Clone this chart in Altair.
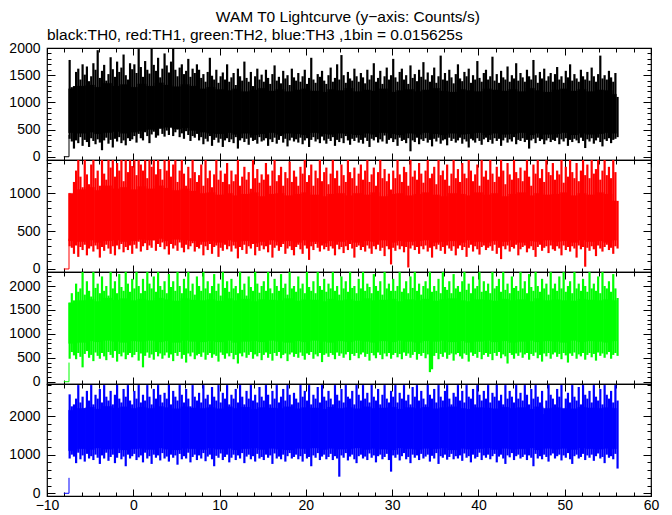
import altair as alt
import pandas as pd

FONT = "Liberation Sans"
TITLE = "WAM T0 Lightcurve (y\u2212axis: Counts/s)"
SUBTITLE = "black:TH0, red:TH1, green:TH2, blue:TH3 ,1bin = 0.015625s"

# time grids (seconds)
T_START = -7.5
T_END = 56.0
T_BIN = 0.25      # spike envelope bins
T_CORE = 1.0      # dense-core envelope bins
# flat pre-trigger segment (x, y)
PRE_X = [-8.05, -7.45, -7.45]
PRE_Y = [0, 0, 400]

X_DOMAIN = [-10, 60]
X_MAJOR = [-10, 0, 10, 20, 30, 40, 50, 60]
X_MINOR = list(range(-10, 61, 2))

# ---- TH0 (black) ----
TH0_CORE_HI = [1250, 1300, 1320, 1280, 1350, 1300, 1330, 1280,
               1340, 1300, 1360, 1320, 1290, 1330, 1300, 1250,
               1280, 1240, 1220, 1250, 1200, 1230, 1260, 1210,
               1240, 1200, 1230, 1250, 1210, 1190, 1240, 1220,
               1260, 1200, 1230, 1210, 1250, 1190, 1220, 1240,
               1200, 1230, 1260, 1210, 1190, 1240, 1220, 1200,
               1250, 1230, 1210, 1240, 1200, 1260, 1220, 1190,
               1230, 1250, 1210, 1240, 1200, 1230, 1220, 1150]
TH0_CORE_LO = [440, 430, 450, 420, 440, 460, 430, 450,
               470, 500, 520, 540, 510, 530, 480, 450,
               430, 420, 440, 410, 430, 400, 420, 440,
               410, 430, 420, 400, 440, 420, 410, 430,
               420, 400, 430, 410, 440, 420, 400, 430,
               410, 440, 420, 400, 430, 410, 420, 440,
               400, 430, 410, 420, 440, 400, 430, 410,
               420, 440, 400, 430, 410, 420, 440, 430]
TH0_HI = [1780, 1280, 1300, 1560, 1620, 1420, 1700, 1510, 1660, 1390, 1480, 1720, 1600, 1960, 1450,
          1580, 1690, 1400, 1520, 1830, 1610, 1470, 1750, 1560, 1640, 1880, 1500, 1420, 1720, 1610,
          1700, 1540, 1980, 1650, 1470, 1760, 1600, 1530, 2000, 1690, 1580, 1820, 1460, 1620, 1900,
          1680, 1550, 1750, 1990, 1600, 1480, 1640, 1700, 1520, 1580, 1800, 1470, 1620, 1540, 1700,
          1600, 1450, 1520, 1380, 1560, 1820, 1490, 1420, 1600, 1360, 1480, 1550, 1420, 1700, 1380,
          1460, 1540, 1320, 1620, 1480, 1400, 1750, 1450, 1380, 1560, 1300, 1480, 1620, 1420, 1510,
          1380, 1600, 1450, 1340, 1520, 1680, 1400, 1470, 1350, 1580, 1440, 1500, 1320, 1620, 1460,
          1400, 1540, 1380, 1480, 1600, 1340, 1450, 1820, 1420, 1360, 1520, 1470, 1580, 1400, 1340,
          1500, 1640, 1380, 1450, 1700, 1420, 1870, 1500, 1360, 1560, 1440, 1400, 1620, 1480, 1380,
          1540, 1460, 1350, 1600, 1420, 1500, 1720, 1380, 1450, 1580, 1340, 1480, 1640, 1420, 1500,
          1800, 1460, 1380, 1560, 1620, 1420, 1500, 1340, 1680, 1450, 1520, 1390, 1600, 1470, 1740,
          1420, 1550, 1380, 1500, 1640, 1360, 1480, 1860, 1420, 1540, 1400, 1600, 1460, 1350, 1520,
          1700, 1440, 1390, 1560, 1480, 1620, 1360, 1500, 1420, 1760, 1450, 1380, 1540, 1600, 1420,
          1480, 1840, 1400, 1520, 1360, 1580, 1460, 1420, 1660, 1380, 1500, 1440, 1720, 1400, 1540,
          1460, 1380, 1600, 1480, 1420, 1780, 1500, 1360, 1560, 1440, 1620, 1400, 1480, 1540, 1380,
          1520, 1650, 1420, 1480, 1360, 1580, 1460, 1700, 1400, 1520, 1440, 1380, 1600, 1480, 1420,
          1560, 1400, 1640, 1480, 1380, 1520, 1860, 1440, 1500, 1420, 1580, 1460, 1380, 1540, 1100]
TH0_LO = [330, 280, 150, 300, 250, 360, 200, 310, 270, 180, 340, 290, 230, 320, 260,
          120, 300, 350, 240, 310, 170, 330, 280, 360, 250, 300, 210, 340, 290, 320,
          380, 260, 420, 340, 300, 450, 380, 250, 410, 460, 350, 390, 520, 420, 370,
          480, 400, 540, 380, 450, 500, 360, 430, 330, 470, 400, 290, 380, 350, 420,
          300, 360, 230, 330, 280, 380, 200, 310, 350, 260, 330, 180, 300, 340, 270,
          320, 250, 360, 150, 300, 340, 270, 330, 220, 350, 290, 310, 240, 360, 280,
          300, 340, 200, 320, 270, 350, 240, 310, 380, 260, 330, 190, 300, 350, 280,
          320, 260, 350, 230, 300, 340, 180, 310, 360, 280, 320, 250, 370, 300, 240,
          330, 290, 360, 200, 310, 270, 340, 250, 380, 300, 220, 330, 290, 350, 260,
          310, 240, 350, 290, 180, 330, 300, 360, 260, 320, 280, 390, 240, 310, 340,
          270, 320, 200, 350, 290, 310, 250, 340, 100, 300, 270, 350, 230, 320, 290,
          340, 260, 310, 190, 330, 280, 350, 240, 300, 320, 210, 350, 290, 330, 260,
          300, 350, 240, 320, 280, 170, 330, 300, 260, 340, 290, 220, 320, 350, 270,
          310, 240, 340, 290, 330, 200, 300, 350, 260, 320, 280, 360, 230, 310, 290,
          340, 270, 310, 150, 300, 330, 250, 350, 290, 320, 230, 300, 340, 270, 310,
          290, 350, 230, 320, 280, 340, 200, 310, 270, 330, 300, 250, 350, 290, 160,
          320, 280, 340, 240, 300, 350, 270, 190, 320, 290, 340, 250, 310, 330, 360]

# ---- TH1 (red) ----
TH1_CORE_HI = [1000, 1050, 1080, 1040, 1100, 1060, 1080, 1050,
               1090, 1060, 1100, 1070, 1040, 1060, 1030, 1000,
               1010, 980, 1000, 970, 990, 1010, 960, 990,
               1000, 970, 990, 1010, 980, 960, 990, 1000,
               970, 1000, 980, 1010, 960, 990, 1000, 970,
               990, 1010, 980, 960, 1000, 990, 970, 1010,
               980, 1000, 960, 990, 1010, 970, 1000, 980,
               990, 1010, 970, 1000, 980, 1010, 990, 900]
TH1_CORE_LO = [370, 360, 380, 350, 370, 380, 360, 370,
               390, 380, 400, 370, 390, 380, 370, 360,
               370, 350, 380, 360, 370, 340, 360, 380,
               360, 370, 350, 380, 360, 340, 370, 360,
               380, 350, 370, 360, 380, 350, 370, 360,
               370, 380, 350, 360, 370, 350, 380, 360,
               350, 370, 360, 380, 350, 370, 360, 380,
               360, 370, 350, 380, 360, 370, 350, 380]
TH1_HI = [1000, 990, 1150, 1300, 1450, 1220, 1080, 1450, 1250, 1120, 1380, 1450, 1200, 1300, 1100,
          1450, 1260, 1180, 1450, 1340, 1450, 1220, 1400, 1300, 1450, 1160, 1450, 1280, 1450, 1360,
          1450, 1240, 1450, 1380, 1300, 1450, 1200, 1450, 1350, 1450, 1250, 1450, 1320, 1180, 1450,
          1300, 1450, 1220, 1380, 1450, 1150, 1300, 1450, 1260, 1100, 1350, 1200, 1450, 1280, 1150,
          1240, 1380, 1100, 1450, 1200, 1300, 1080, 1250, 1450, 1180, 1300, 1150, 1260, 1400, 1120,
          1300, 1160, 1250, 1450, 1100, 1220, 1350, 1180, 1280, 1060, 1450, 1200, 1320, 1140, 1250,
          1180, 1400, 1250, 1100, 1300, 1450, 1160, 1240, 1350, 1100, 1280, 1200, 1420, 1150, 1300,
          1220, 1100, 1350, 1260, 1450, 1150, 1240, 1380, 1100, 1300, 1200, 1450, 1160, 1280, 1340,
          1120, 1260, 1450, 1200, 1300, 1100, 1380, 1240, 1150, 1450, 1280, 1200, 1340, 1100, 1260,
          1380, 1180, 1300, 1450, 1150, 1250, 1340, 1100, 1280, 1450, 1200, 1320, 1160, 1260, 1050,
          1300, 1200, 1450, 1250, 1150, 1350, 1280, 1100, 1450, 1220, 1300, 1180, 1400, 1260, 1140,
          1300, 1450, 1200, 1260, 1350, 1120, 1450, 1240, 1300, 1180, 1380, 1100, 1260, 1450, 1200,
          1320, 1150, 1400, 1260, 1200, 1450, 1300, 1160, 1250, 1380, 1100, 1450, 1220, 1300, 1180,
          1450, 1260, 1150, 1350, 1220, 1450, 1300, 1120, 1400, 1250, 1180, 1450, 1280, 1200, 1340,
          1160, 1300, 1450, 1220, 1100, 1380, 1260, 1450, 1200, 1320, 1150, 1450, 1280, 1240, 1400,
          1180, 1300, 1250, 1450, 1140, 1350, 1220, 1450, 1280, 1200, 1400, 1160, 1300, 1450, 1240,
          1380, 1200, 1450, 1260, 1320, 1450, 1180, 1300, 1450, 1240, 1350, 1200, 1450, 1280, 900]
TH1_LO = [300, 280, 200, 310, 160, 290, 250, 320, 180, 270, 300, 230, 310, 260, 150,
          290, 240, 320, 270, 200, 300, 180, 310, 260, 330, 220, 290, 250, 310, 200,
          320, 270, 360, 230, 300, 340, 250, 310, 280, 380, 240, 330, 290, 350, 260,
          300, 190, 330, 270, 310, 240, 350, 280, 220, 320, 260, 300, 340, 230, 290,
          270, 320, 180, 300, 250, 330, 200, 290, 310, 160, 280, 240, 320, 260, 300,
          230, 310, 270, 140, 290, 250, 320, 200, 300, 270, 330, 180, 290, 240, 310,
          260, 300, 220, 320, 150, 280, 310, 240, 290, 330, 200, 270, 300, 250, 180,
          290, 320, 260, 200, 310, 270, 120, 300, 250, 330, 280, 230, 310, 260, 290,
          240, 300, 270, 180, 320, 260, 290, 210, 300, 250, 330, 270, 150, 290, 310,
          250, 290, 230, 310, 270, 200, 300, 260, 320, 240, 280, 170, 300, 260, 60,
          280, 240, 310, 260, 300, 220, 290, 20, 270, 310, 250, 290, 200, 300, 260,
          310, 230, 280, 150, 300, 260, 320, 240, 290, 200, 310, 270, 240, 300, 180,
          270, 310, 250, 290, 160, 280, 320, 230, 300, 260, 190, 290, 310, 250, 280,
          300, 240, 320, 200, 280, 130, 300, 260, 310, 230, 290, 270, 320, 180, 260,
          290, 310, 220, 270, 300, 250, 160, 290, 320, 240, 280, 300, 210, 310, 260,
          240, 300, 270, 180, 310, 250, 290, 230, 300, 270, 150, 310, 260, 290, 30,
          280, 240, 300, 260, 170, 310, 270, 230, 290, 320, 250, 280, 200, 300, 270]

# ---- TH2 (green) ----
TH2_CORE_HI = [1650, 1700, 1720, 1680, 1750, 1710, 1740, 1700,
               1730, 1700, 1750, 1720, 1690, 1740, 1710, 1700,
               1720, 1690, 1740, 1700, 1730, 1680, 1720, 1710,
               1700, 1740, 1690, 1720, 1710, 1680, 1730, 1700,
               1720, 1690, 1740, 1700, 1710, 1730, 1680, 1720,
               1700, 1730, 1690, 1720, 1740, 1700, 1680, 1720,
               1710, 1690, 1730, 1700, 1720, 1680, 1740, 1700,
               1720, 1700, 1690, 1730, 1710, 1700, 1720, 1700]
TH2_CORE_LO = [800, 820, 850, 830, 860, 840, 820, 850,
               840, 860, 830, 850, 820, 860, 840, 830,
               850, 830, 860, 820, 840, 850, 830, 860,
               840, 820, 850, 830, 860, 840, 820, 850,
               830, 860, 840, 820, 850, 830, 860, 840,
               820, 850, 840, 860, 830, 850, 820, 840,
               860, 830, 850, 820, 840, 860, 830, 850,
               840, 820, 860, 830, 850, 840, 820, 850]
TH2_HI = [1650, 1850, 1700, 2050, 1880, 1950, 2300, 1820, 2100, 1900, 1780, 2300, 1960, 2050, 1850,
          2200, 1900, 2000, 1800, 2300, 1950, 2100, 1850, 2250, 1980, 1900, 2300, 2050, 1880, 2150,
          1950, 2300, 2000, 1850, 2150, 1900, 2300, 2050, 1950, 2200, 1880, 2300, 2000, 1920, 2100,
          1850, 2250, 1980, 2100, 1900, 2300, 2000, 1850, 2150, 1950, 2300, 1900, 2050, 1820, 2200,
          2000, 1900, 2300, 1950, 2100, 1850, 2000, 2250, 1900, 2050, 1800, 2300, 1960, 2100, 1880,
          2150, 1950, 2000, 1850, 2300, 1920, 2050, 1800, 2200, 1980, 1900, 2300, 2050, 1860, 2000,
          2100, 1900, 2300, 1950, 1850, 2150, 2000, 1900, 2250, 1960, 2050, 1820, 2300, 1950, 2000,
          1880, 2200, 1950, 2050, 1850, 2300, 1980, 1900, 2100, 1850, 2300, 2000, 1920, 2150, 1880,
          2050, 1950, 2300, 1900, 2000, 1820, 2200, 1950, 2100, 1880, 2300, 1960, 2000, 1850, 2150,
          1950, 2300, 1900, 2050, 1980, 1850, 2250, 2000, 1900, 2100, 1820, 2300, 1950, 2050, 1900,
          2150, 1900, 2000, 2300, 1880, 1950, 2100, 1850, 2200, 1960, 2300, 1900, 2050, 1820, 2000,
          2100, 1950, 2300, 1880, 2000, 1900, 2150, 1850, 2300, 1980, 1920, 2100, 1850, 2250, 1950,
          2000, 1880, 2100, 2300, 1920, 2050, 1850, 2200, 1950, 2000, 2300, 1880, 2100, 1900, 2050,
          1850, 2300, 1950, 2000, 2150, 1880, 2300, 1920, 2050, 1850, 2200, 1960, 2000, 1900, 2300,
          1950, 2100, 1850, 2250, 1980, 1900, 2300, 2000, 1880, 2150, 1950, 2050, 1820, 2300, 1950,
          2050, 1900, 2200, 1950, 2300, 1880, 2000, 2100, 1850, 2300, 1950, 2050, 1900, 2150, 2000,
          1880, 2300, 1950, 2050, 1900, 2200, 1850, 2300, 2000, 1950, 2100, 1880, 2250, 1950, 1750]
TH2_LO = [480, 620, 550, 470, 600, 520, 300, 580, 640, 500, 560, 430, 610, 540, 480,
          600, 530, 450, 620, 560, 500, 640, 420, 580, 530, 610, 470, 560, 600, 510,
          560, 620, 440, 590, 300, 540, 610, 500, 570, 460, 620, 530, 590, 480, 550,
          610, 500, 570, 430, 600, 540, 620, 480, 560, 400, 590, 530, 610, 470, 550,
          580, 520, 610, 460, 560, 600, 500, 570, 540, 420, 610, 560, 480, 590, 530,
          600, 470, 560, 380, 590, 530, 610, 500, 560, 620, 480, 570, 530, 600, 450,
          560, 610, 500, 580, 440, 600, 540, 620, 490, 560, 590, 430, 570, 610, 520,
          580, 500, 610, 540, 460, 590, 560, 620, 480, 570, 530, 600, 410, 560, 590,
          520, 600, 560, 470, 610, 540, 590, 500, 570, 620, 450, 580, 540, 600, 490,
          570, 610, 520, 580, 440, 600, 550, 490, 610, 560, 470, 590, 530, 600, 480,
          560, 600, 510, 580, 470, 610, 540, 590, 500, 560, 620, 460, 580, 540, 600,
          490, 570, 200, 260, 540, 600, 470, 580, 520, 610, 480, 560, 590, 440, 570,
          600, 530, 480, 590, 560, 420, 610, 540, 580, 500, 620, 470, 560, 600, 520,
          580, 450, 600, 540, 620, 490, 570, 530, 380, 600, 560, 480, 590, 540, 610,
          500, 570, 600, 460, 580, 540, 610, 490, 560, 420, 590, 530, 600, 480, 570,
          610, 520, 580, 470, 600, 550, 400, 590, 540, 610, 480, 570, 530, 600, 460,
          560, 600, 510, 580, 440, 610, 540, 590, 500, 570, 620, 480, 560, 600, 540]

# ---- TH3 (blue) ----
TH3_CORE_HI = [2150, 2200, 2230, 2180, 2250, 2210, 2240, 2200,
               2230, 2200, 2250, 2220, 2190, 2240, 2210, 2200,
               2220, 2190, 2240, 2200, 2230, 2180, 2220, 2210,
               2200, 2240, 2190, 2220, 2210, 2180, 2230, 2200,
               2220, 2190, 2240, 2200, 2210, 2230, 2180, 2220,
               2200, 2230, 2190, 2220, 2240, 2200, 2180, 2220,
               2210, 2190, 2230, 2200, 2220, 2180, 2240, 2200,
               2220, 2200, 2190, 2230, 2210, 2200, 2220, 2200]
TH3_CORE_LO = [1100, 1150, 1130, 1170, 1140, 1160, 1120, 1150,
               1160, 1130, 1170, 1140, 1120, 1160, 1150, 1130,
               1170, 1140, 1160, 1120, 1150, 1170, 1130, 1160,
               1140, 1120, 1160, 1150, 1170, 1130, 1160, 1140,
               1150, 1170, 1130, 1160, 1140, 1120, 1170, 1150,
               1130, 1160, 1150, 1170, 1120, 1160, 1140, 1150,
               1170, 1130, 1160, 1140, 1150, 1170, 1120, 1160,
               1140, 1160, 1130, 1170, 1150, 1140, 1160, 1150]
TH3_HI = [2560, 2250, 2300, 2450, 2800, 2350, 2500, 2200, 2650, 2400, 2800, 2300, 2550, 2450, 2700,
          2350, 2800, 2500, 2400, 2650, 2300, 2550, 2800, 2450, 2350, 2700, 2500, 2800, 2400, 2300,
          2650, 2450, 2800, 2350, 2550, 2400, 2800, 2500, 2300, 2700, 2450, 2800, 2550, 2350, 2600,
          2450, 2800, 2300, 2650, 2500, 2400, 2800, 2550, 2350, 2700, 2450, 2250, 2800, 2500, 2400,
          2600, 2350, 2800, 2450, 2550, 2300, 2750, 2500, 2400, 2800, 2350, 2600, 2450, 2800, 2300,
          2550, 2450, 2700, 2350, 2800, 2500, 2300, 2650, 2450, 2800, 2400, 2550, 2350, 2750, 2500,
          2400, 2800, 2550, 2300, 2650, 2450, 2800, 2350, 2500, 2700, 2400, 2800, 2550, 2300, 2600,
          2450, 2350, 2800, 2500, 2650, 2400, 2800, 2300, 2550, 2450, 2750, 2350, 2800, 2500, 2400,
          2650, 2450, 2300, 2800, 2550, 2400, 2700, 2350, 2800, 2500, 2450, 2650, 2300, 2800, 2550,
          2400, 2800, 2450, 2600, 2350, 2800, 2500, 2400, 2700, 2300, 2550, 2800, 2450, 2350, 2650,
          2500, 2800, 2350, 2600, 2450, 2800, 2400, 2550, 2300, 2750, 2500, 2800, 2400, 2650, 2450,
          2300, 2800, 2550, 2450, 2700, 2350, 2800, 2500, 2400, 2650, 2800, 2450, 2300, 2600, 2500,
          2800, 2400, 2650, 2350, 2800, 2500, 2450, 2700, 2300, 2800, 2550, 2400, 2650, 2450, 2800,
          2350, 2600, 2500, 2800, 2400, 2550, 2300, 2800, 2450, 2650, 2500, 2350, 2800, 2450, 2600,
          2400, 2800, 2550, 2300, 2700, 2450, 2800, 2500, 2350, 2650, 2050, 2400, 2800, 2550, 2450,
          2300, 2700, 2500, 2800, 2100, 2450, 2600, 2350, 2800, 2500, 2400, 2750, 2300, 2800, 2550,
          2450, 2650, 2350, 2800, 2500, 2400, 2700, 2300, 2800, 2550, 2450, 2650, 2350, 2800, 2400]
TH3_LO = [900, 1000, 950, 780, 1050, 880, 980, 820, 1020, 900, 960, 860, 1000, 920, 760,
          980, 900, 1050, 840, 940, 1000, 780, 920, 1040, 880, 950, 700, 1000, 900, 960,
          1020, 860, 930, 980, 800, 1050, 900, 960, 760, 1000, 920, 980, 850, 1040, 900,
          950, 820, 1000, 920, 980, 740, 1020, 880, 960, 900, 1050, 800, 940, 1000, 860,
          980, 900, 1040, 830, 950, 1000, 880, 700, 970, 920, 1030, 860, 940, 1000, 800,
          920, 1000, 860, 980, 900, 1040, 780, 950, 1000, 880, 960, 820, 1020, 900, 940,
          860, 1000, 920, 980, 760, 1030, 900, 950, 880, 1000, 820, 960, 1040, 900, 940,
          1000, 880, 960, 820, 1020, 900, 940, 700, 980, 920, 1040, 860, 950, 1000, 880,
          940, 1020, 860, 960, 900, 430, 980, 920, 1040, 850, 950, 1000, 880, 780, 960,
          1000, 900, 950, 860, 1030, 920, 980, 800, 960, 1000, 880, 940, 1020, 860, 560,
          980, 920, 1000, 850, 960, 1040, 880, 940, 780, 1000, 920, 980, 860, 1020, 900,
          950, 1000, 820, 970, 900, 1040, 760, 960, 920, 1000, 870, 940, 1020, 880, 960,
          900, 980, 840, 1030, 920, 960, 800, 1000, 900, 940, 1050, 860, 980, 920, 1000,
          880, 960, 1020, 800, 950, 1000, 900, 760, 980, 930, 1040, 860, 960, 1000, 900,
          940, 1000, 860, 980, 920, 700, 1020, 900, 960, 880, 1000, 940, 820, 980, 1030,
          900, 960, 1000, 850, 980, 920, 1040, 880, 760, 960, 1000, 900, 940, 1020, 860,
          980, 920, 1000, 840, 960, 1030, 900, 940, 780, 1000, 920, 960, 880, 1020, 640]

PANELS = [
    dict(hi=TH0_HI, lo=TH0_LO, chi=TH0_CORE_HI, clo=TH0_CORE_LO, color="#000000",
         ydom=[-60, 2000], ymaj=[0, 500, 1000, 1500, 2000], ymin=list(range(0, 2001, 100))),
    dict(hi=TH1_HI, lo=TH1_LO, chi=TH1_CORE_HI, clo=TH1_CORE_LO, color="#ff0000",
         ydom=[-40, 1440], ymaj=[0, 500, 1000], ymin=list(range(0, 1401, 100))),
    dict(hi=TH2_HI, lo=TH2_LO, chi=TH2_CORE_HI, clo=TH2_CORE_LO, color="#00ff00",
         ydom=[-48, 2293], ymaj=[0, 500, 1000, 1500, 2000], ymin=list(range(0, 2201, 100))),
    dict(hi=TH3_HI, lo=TH3_LO, chi=TH3_CORE_HI, clo=TH3_CORE_LO, color="#0000ff",
         ydom=[-70, 2828], ymaj=[0, 1000, 2000], ymin=list(range(0, 2801, 200))),
]

W, H = 604, 112
MAJ, MIN = 8, 4
TITLE_SIZE = 15.5


def ax(orient, values, size, labels=False, pad=0):
    kw = dict(orient=orient, values=values, tickSize=size, offset=-size,
              labels=labels, domain=False, grid=False, title=None,
              ticks=True, tickColor="black", tickWidth=1)
    if labels:
        kw.update(labelFont=FONT, labelFontSize=14, labelColor="black", format="d",
                  labelPadding=pad, labelFlush=False, labelOverlap=False)
    return alt.Axis(**kw)


def panel(p, bottom, title=None):
    n = len(p["hi"])
    t0 = [T_START + i * T_BIN for i in range(n)]
    spikes = pd.DataFrame({"t": [t + T_BIN / 2 for t in t0], "lo": p["lo"], "hi": p["hi"]})
    m = len(p["chi"])
    c0 = [T_START + i * T_CORE for i in range(m)]
    core = pd.DataFrame({"t0": c0, "t1": [min(t + T_CORE, T_END) for t in c0],
                         "lo": p["clo"], "hi": p["chi"]})
    xs = alt.Scale(domain=X_DOMAIN, nice=False, zero=False)
    ys = alt.Scale(domain=p["ydom"], nice=False, zero=False)

    core_l = alt.Chart(core).mark_rect(clip=True, color=p["color"], stroke=p["color"],
                                      strokeWidth=0.3).encode(
        x=alt.X("t0:Q", scale=xs, axis=ax("bottom", X_MAJOR, MAJ - 1, labels=bottom, pad=2)),
        x2="t1:Q",
        y=alt.Y("lo:Q", scale=ys, axis=ax("left", p["ymaj"], MAJ, labels=True, pad=7)),
        y2="hi:Q")

    def rule(xax, yax, opacity):
        return alt.Chart(spikes).mark_rule(clip=True, color=p["color"], strokeWidth=2.2,
                                           opacity=opacity).encode(
            x=alt.X("t:Q", scale=xs, axis=xax),
            y=alt.Y("lo:Q", scale=ys, axis=yax), y2="hi:Q")

    l2 = rule(ax("bottom", X_MINOR, MIN), ax("left", p["ymin"], MIN), 1)
    l3 = rule(ax("top", X_MAJOR, MAJ - 1), ax("right", p["ymaj"], MAJ), 0)
    l4 = rule(ax("top", X_MINOR, MIN), ax("right", p["ymin"], MIN), 0)

    pre = alt.Chart(pd.DataFrame({"x": PRE_X, "y": PRE_Y, "o": list(range(len(PRE_X)))}))
    pre = pre.mark_line(color=p["color"], strokeWidth=1, clip=True).encode(
        x=alt.X("x:Q", scale=xs, axis=None),
        y=alt.Y("y:Q", scale=ys, axis=None), order="o:Q")

    ch = alt.layer(core_l, l2, l3, l4, pre).resolve_axis(x="independent", y="independent")
    props = dict(width=W, height=H)
    if title:
        props["title"] = alt.TitleParams(title, anchor="start", frame="group",
                                         font=FONT, fontSize=TITLE_SIZE, fontWeight="normal",
                                         color="black", offset=-2)
    return ch.properties(**props)


charts = [panel(p, i == 3, SUBTITLE if i == 0 else None) for i, p in enumerate(PANELS)]

chart = alt.vconcat(*charts, spacing=0, bounds="flush").properties(
    title=alt.TitleParams(TITLE, anchor="middle", font=FONT, fontSize=TITLE_SIZE,
                          fontWeight="normal", color="black", offset=1, dx=14),
    padding={"top": 2, "left": 0, "right": 0, "bottom": 0},
).configure_view(stroke="black", strokeWidth=1.2)

chart.save("out.html", embed_options={"renderer": "svg", "actions": False})
